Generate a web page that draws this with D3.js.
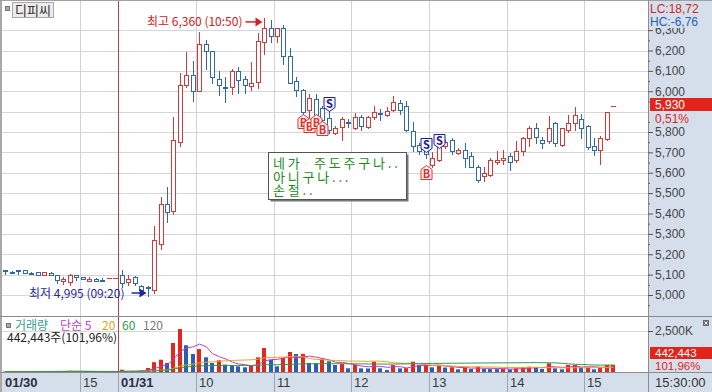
<!DOCTYPE html>
<html>
<head>
<meta charset="utf-8">
<script src="https://cdn.jsdelivr.net/npm/d3@7"></script>
<style>
  html, body { margin: 0; padding: 0; background: #fff; }
  svg { display: block; }
</style>
</head>
<body>
<svg id="chart" width="712" height="392"></svg>
<script>
const FONT = '"Noto Sans CJK KR", "Noto Sans", sans-serif';
const NUMFONT = '"Liberation Sans", Arial, sans-serif';

// ---- data ----
const stockName = "디피씨";
const days = ["01/30", "01/31"];

const day1Times = ["14:00","14:05","14:10","14:15","14:20","14:25","14:30","14:35","14:40","14:45","14:50","14:55",
  "15:00","15:05","15:10","15:15","15:20","15:25"];
const day1Open  = [5125,5115,5122,5122,5110,5115,5100,5110,5100,5068,5065,5098,5090,5070,5078,5075,5082,5082];
const day1High  = [5125,5120,5122,5122,5115,5115,5115,5115,5100,5090,5105,5098,5090,5090,5085,5082,5082,5082];
const day1Low   = [5105,5110,5105,5110,5105,5100,5100,5100,5058,5052,5050,5075,5080,5070,5068,5068,5082,5082];
const day1Close = [5120,5110,5118,5110,5105,5100,5115,5100,5075,5080,5098,5088,5080,5080,5068,5068,5082,5082];
const day1Volume = [30,20,25,30,20,40,35,20,60,45,70,30,20,25,20,15,10,10];

const day2Times = ["09:00","09:05","09:10","09:15","09:20","09:25","09:30","09:35","09:40","09:45","09:50","09:55",
  "10:00","10:05","10:10","10:15","10:20","10:25","10:30","10:35","10:40","10:45","10:50","10:55",
  "11:00","11:05","11:10","11:15","11:20","11:25","11:30","11:35","11:40","11:45","11:50","11:55",
  "12:00","12:05","12:10","12:15","12:20","12:25","12:30","12:35","12:40","12:45","12:50","12:55",
  "13:00","13:05","13:10","13:15","13:20","13:25","13:30","13:35","13:40","13:45","13:50","13:55",
  "14:00","14:05","14:10","14:15","14:20","14:25","14:30","14:35","14:40","14:45","14:50","14:55",
  "15:00","15:05","15:10","15:15","15:20"];
const day2Open = [5100,5065,5090,5045,5040,5025,5250,5445,5410,5750,
  6030,6080,6000,6230,6200,6060,6020,6020,6100,6060,
  6025,6045,6240,6310,6270,6310,6175,6050,6005,5910,
  5960,5920,5870,5795,5825,5850,5820,5875,5825,5875,
  5895,5885,5910,5940,5930,5805,5735,5710,5640,5665,
  5730,5760,5695,5710,5680,5630,5585,5590,5655,5665,
  5680,5665,5705,5770,5820,5760,5755,5845,5735,5810,
  5845,5865,5830,5730,5710,5765,5930];
const day2High = [5125,5100,5095,5050,5045,5340,5480,5530,5875,6090,
  6195,6150,6290,6250,6200,6100,6070,6110,6120,6075,
  6145,6285,6360,6350,6310,6325,6210,6070,6010,5985,
  5985,5930,5905,5830,5875,5865,5895,5885,5880,5930,
  5915,5925,5975,5955,5950,5850,5745,5720,5700,5740,
  5760,5770,5720,5745,5700,5640,5630,5670,5705,5710,
  5695,5755,5775,5830,5845,5775,5880,5850,5820,5885,
  5925,5890,5835,5770,5780,5900,5930];
const day2Low = [5040,5050,5050,5005,4995,5010,5225,5360,5400,5730,
  6020,5950,6000,6110,6040,5980,5945,5985,5990,5990,
  6005,6015,6185,6240,6240,6135,6040,5975,5880,5830,
  5870,5850,5795,5790,5760,5825,5815,5810,5820,5865,
  5860,5880,5905,5890,5805,5705,5690,5670,5630,5660,
  5720,5690,5690,5630,5630,5555,5560,5585,5645,5645,
  5615,5655,5685,5730,5745,5720,5745,5730,5730,5800,
  5810,5770,5715,5685,5645,5760,5930];
const day2Close = [5060,5080,5060,5025,5035,5270,5445,5405,5760,6030,
  6080,6000,6230,6200,6070,6030,6015,6100,6055,6030,
  6040,6245,6310,6270,6310,6175,6040,6005,5900,5965,
  5885,5860,5810,5820,5865,5845,5875,5830,5875,5900,
  5890,5905,5945,5910,5810,5730,5705,5690,5670,5730,
  5750,5705,5710,5670,5630,5565,5600,5665,5665,5670,
  5655,5705,5770,5820,5775,5745,5820,5745,5820,5845,
  5885,5820,5725,5710,5770,5900,5930];
// volume in thousand shares
const day2Volume = [140,50,60,80,244,600,750,550,1770,2620,
  1630,1100,1400,895,550,712,447,407,346,285,
  387,895,1464,753,346,854,1220,1098,1110,549,
  540,813,651,427,488,224,427,224,215,630,
  224,122,427,220,235,630,427,440,285,366,
  270,290,163,264,183,325,183,180,175,185,
  163,224,285,325,310,183,530,224,163,427,
  430,285,290,163,285,433.94,442.443];

const priceTicks = [5000,5100,5200,5300,5400,5500,5600,5700,5800,5900,6000,6100,6200,6300];
const volumeTicks = [2500];

// my trades (B = buy, S = sell)
const tradeTimes  = ["11:20","11:25","11:30","11:35","11:40","12:55","12:55","13:05"];
const tradeSides  = ["B","B","B","B","S","S","B","S"];
const tradePrices = [5890,5870,5890,5855,5905,5700,5640,5720];

const memoLines = ["네가  주도주구나..", "아니구나...", "손절.."];
const lcText = "LC:18,72";
const hcText = "HC:-6,76";
const changeText = "0,51%";
const clockText = "15:30:00";
const maPeriods = [5, 20, 60, 120];

// ---- build bars ----
const bars = [];
day1Times.forEach((t, i) => bars.push({ day: days[0], time: t, o: day1Open[i], h: day1High[i], l: day1Low[i], c: day1Close[i], v: day1Volume[i] }));
day2Times.forEach((t, i) => bars.push({ day: days[1], time: t, o: day2Open[i], h: day2High[i], l: day2Low[i], c: day2Close[i], v: day2Volume[i] }));
bars.forEach((b, k) => {
  b.k = k;
  b.dayStart = k === 0 || bars[k - 1].day !== b.day;
  b.volUp = k === 0 || b.v >= bars[k - 1].v;
});

// ---- layout ----
const W = 712, H = 392;
const plotLeft = 2, plotRight = 648;
const priceBottom = 316, volBottom = 372;
const slotW = 6.47;

const svg = d3.select("#chart").attr("font-family", FONT);

const x = d3.scaleLinear().domain([0, (plotRight - plotLeft) / slotW]).range([plotLeft, plotRight]);
const yP = d3.scaleLinear().domain([5000, 6200]).range([295, 50.5]);
const yV = d3.scaleLinear().domain([0, 2500]).range([volBottom, 331]);
const cx = b => Math.round(x(b.k + 0.5)) + 0.5;
const fmt = d3.format(",");

const RED = "#d23a3a", BLUE = "#2e68a8";
const VRED = "#e2271f", VBLUE = "#2a5cb8";
const PANEL = "#d5dfeb";

const last = bars[bars.length - 1];
const prev = bars[bars.length - 2];
const py = Math.round(yP(last.c));

// backgrounds
svg.append("rect").attr("width", W).attr("height", H).attr("fill", "#fff");
svg.append("rect").attr("x", plotRight).attr("y", 0).attr("width", W - plotRight).attr("height", H).attr("fill", PANEL);
svg.append("rect").attr("x", 0).attr("y", volBottom).attr("width", plotRight).attr("height", H - volBottom).attr("fill", PANEL);

// horizontal grid
svg.append("g").selectAll("line").data(priceTicks).enter().append("line")
  .attr("x1", plotLeft).attr("x2", plotRight)
  .attr("y1", d => Math.round(yP(d)) + 0.5).attr("y2", d => Math.round(yP(d)) + 0.5)
  .attr("stroke", "#d6d6d6");
svg.append("g").selectAll("line").data(volumeTicks).enter().append("line")
  .attr("x1", plotLeft).attr("x2", plotRight)
  .attr("y1", d => Math.round(yV(d)) + 0.5).attr("y2", d => Math.round(yV(d)) + 0.5)
  .attr("stroke", "#d6d6d6");

// vertical grid (hour boundaries, day separators)
const labelBars = bars.filter(b => b.dayStart || b.time.endsWith(":00"));
const gridBars = labelBars.filter(b => b.k > 0);
svg.append("g").selectAll("line").data(gridBars).enter().append("line")
  .attr("x1", b => Math.round(x(b.k)) + 0.5).attr("x2", b => Math.round(x(b.k)) + 0.5)
  .attr("y1", 0).attr("y2", volBottom)
  .attr("stroke", b => b.dayStart ? "#b84040" : "#d2d2d2");
svg.append("g").selectAll("line").data(gridBars).enter().append("line")
  .attr("x1", b => Math.round(x(b.k)) + 0.5).attr("x2", b => Math.round(x(b.k)) + 0.5)
  .attr("y1", volBottom).attr("y2", H)
  .attr("stroke", "#9aa6b6");

// panel borders
svg.append("rect").attr("x", 0).attr("y", 0).attr("width", plotLeft).attr("height", H).attr("fill", "#a8a8a8");
svg.append("line").attr("x1", 0).attr("x2", W).attr("y1", 0.5).attr("y2", 0.5).attr("stroke", "#a0a0a0");
svg.append("line").attr("x1", 0).attr("x2", W).attr("y1", priceBottom + 0.5).attr("y2", priceBottom + 0.5).attr("stroke", "#8c8c8c");
svg.append("line").attr("x1", 0).attr("x2", W).attr("y1", volBottom + 0.5).attr("y2", volBottom + 0.5).attr("stroke", "#8c8c8c");
svg.append("line").attr("x1", plotRight + 0.5).attr("x2", plotRight + 0.5).attr("y1", 0).attr("y2", H).attr("stroke", "#8c8c8c");

// ---- candles ----
const candles = svg.append("g").selectAll("g").data(bars).enter().append("g");
candles.append("line")
  .attr("x1", cx).attr("x2", cx)
  .attr("y1", b => Math.round(yP(b.h))).attr("y2", b => Math.round(yP(b.l)) + 1)
  .attr("stroke", b => b.c >= b.o ? RED : BLUE);
candles.append("rect")
  .attr("x", b => cx(b) - 2)
  .attr("y", b => Math.round(yP(Math.max(b.o, b.c))) + 0.5)
  .attr("width", 4)
  .attr("height", b => Math.max(0.01, Math.round(yP(Math.min(b.o, b.c))) - Math.round(yP(Math.max(b.o, b.c)))))
  .attr("fill", "#fff")
  .attr("stroke", b => b.c >= b.o ? RED : BLUE);

// ---- volume ----
svg.append("g").selectAll("rect").data(bars).enter().append("rect")
  .attr("x", b => cx(b) - 2.5)
  .attr("y", b => yV(b.v))
  .attr("width", 4)
  .attr("height", b => volBottom - yV(b.v))
  .attr("fill", b => b.volUp ? VRED : VBLUE);

const volumes = bars.map(b => b.v);
const movingAvg = n => volumes.map((v, i) => d3.mean(volumes.slice(Math.max(0, i - n + 1), i + 1)));
const maColors = ["#c43cc4", "#eea21e", "#2a9a50", "#8a8a8a"];
maPeriods.slice(0, 3).forEach((n, j) => {
  const ma = movingAvg(n);
  svg.append("path")
    .datum(bars)
    .attr("fill", "none")
    .attr("stroke", maColors[j])
    .attr("stroke-width", 1)
    .attr("d", d3.line().x(b => cx(b)).y(b => yV(ma[b.k])));
});

// ---- trade markers ----
const trades = tradeTimes.map((t, i) => {
  const b = bars.find(d => d.day === days[1] && d.time === t);
  return { b, side: tradeSides[i], price: tradePrices[i] };
});
const mk = svg.append("g").selectAll("g").data(trades).enter().append("g")
  .attr("transform", d => `translate(${cx(d.b)},${Math.round(yP(d.price)) + 0.5})`);
mk.append("path")
  .attr("d", d => d.side === "B"
    ? "M0,0 L5.5,4 L5.5,14 L-5.5,14 L-5.5,4 Z"
    : "M0,0 L5.5,-4 L5.5,-14 L-5.5,-14 L-5.5,-4 Z")
  .attr("fill", d => d.side === "B" ? "#fff4f4" : "#f6f6ff")
  .attr("stroke", d => d.side === "B" ? "#e03030" : "#1c1c8c");
mk.append("text")
  .attr("text-anchor", "middle")
  .attr("y", d => d.side === "B" ? 12.5 : -3.5)
  .attr("font-size", 11)
  .attr("font-weight", "bold")
  .attr("fill", d => d.side === "B" ? "#e03030" : "#1c1c8c")
  .text(d => d.side);

// ---- high / low annotations ----
const day2Bars = bars.filter(b => b.day === days[1]);
const hiBar = day2Bars.reduce((a, b) => b.h > a.h ? b : a);
const loBar = day2Bars.reduce((a, b) => b.l < a.l ? b : a);

const hiTipX = cx(hiBar) - 2, hiY = yP(hiBar.h) + 4;
svg.append("line").attr("x1", hiTipX - 17).attr("x2", hiTipX - 6).attr("y1", hiY).attr("y2", hiY)
  .attr("stroke", "#d42020").attr("stroke-width", 1.5);
svg.append("path").attr("d", `M${hiTipX},${hiY} L${hiTipX - 7},${hiY - 4.5} L${hiTipX - 7},${hiY + 4.5} Z`).attr("fill", "#d42020");
svg.append("text").attr("x", hiTipX - 20).attr("y", hiY + 4.5).attr("text-anchor", "end")
  .attr("font-size", 12).attr("fill", "#d42020")
  .text(`최고 ${fmt(hiBar.h)} (${hiBar.time})`);

const loTipX = cx(loBar) - 2, loY = yP(loBar.l) - 3;
svg.append("line").attr("x1", loTipX - 15).attr("x2", loTipX - 6).attr("y1", loY).attr("y2", loY)
  .attr("stroke", "#1c2a96").attr("stroke-width", 1.5);
svg.append("path").attr("d", `M${loTipX},${loY} L${loTipX - 7},${loY - 4.5} L${loTipX - 7},${loY + 4.5} Z`).attr("fill", "#1c2a96");
svg.append("text").attr("x", loTipX - 22).attr("y", loY + 4.5).attr("text-anchor", "end")
  .attr("font-size", 12).attr("fill", "#1c2a96")
  .text(`최저 ${fmt(loBar.l)} (${loBar.time})`);

// ---- memo box ----
svg.append("rect").attr("x", 270.5).attr("y", 154.5).attr("width", 138).attr("height", 47).attr("fill", "#777");
svg.append("rect").attr("x", 268.5).attr("y", 152.5).attr("width", 138).attr("height", 47)
  .attr("fill", "#fff").attr("stroke", "#555");
svg.append("text")
  .attr("y", 168)
  .attr("font-size", 13).attr("letter-spacing", 2.8)
  .attr("fill", "#1a8a1a")
  .style("white-space", "pre")
  .selectAll("tspan").data(memoLines).enter().append("tspan")
  .attr("x", 273).attr("dy", (d, i) => i === 0 ? 0 : 13.5)
  .text(d => d);

// ---- right price axis ----
svg.append("clipPath").attr("id", "axisClip")
  .append("rect").attr("x", 0).attr("y", 28).attr("width", W - plotRight).attr("height", priceBottom - 28);
// labels hidden behind the price tag are left out
const shownTicks = priceTicks.filter(d => Math.abs(yP(d) - py) > 12);
svg.append("g")
  .attr("transform", `translate(${plotRight},0)`)
  .call(d3.axisRight(yP).tickValues(priceTicks.map(d => d - 50)).tickSize(2).tickFormat(""))
  .call(g => g.select(".domain").remove())
  .call(g => g.selectAll("line").attr("stroke", "#666"));
svg.append("g")
  .attr("transform", `translate(${plotRight},0)`)
  .attr("clip-path", "url(#axisClip)")
  .call(d3.axisRight(yP).tickValues(shownTicks).tickSize(5).tickPadding(2).tickFormat(fmt))
  .attr("font-family", NUMFONT)
  .call(g => g.select(".domain").remove())
  .call(g => g.selectAll("line").attr("stroke", "#555"))
  .call(g => g.selectAll("text").attr("fill", "#454545").attr("font-size", 12));

// volume axis
svg.append("g")
  .attr("transform", `translate(${plotRight},0)`)
  .call(d3.axisRight(yV).tickValues(volumeTicks).tickSize(5).tickPadding(2).tickFormat(d => fmt(d) + "K"))
  .attr("font-family", NUMFONT)
  .call(g => g.select(".domain").remove())
  .call(g => g.selectAll("line").attr("stroke", "#555"))
  .call(g => g.selectAll("text").attr("fill", "#454545").attr("font-size", 12));

// LC / HC
svg.append("text").attr("x", plotRight + 2).attr("y", 12.5).attr("font-family", NUMFONT).attr("font-size", 12).attr("fill", "#d02828").text(lcText);
svg.append("text").attr("x", plotRight + 2).attr("y", 26).attr("font-family", NUMFONT).attr("font-size", 12).attr("fill", "#2a5fb0").text(hcText);

// current price tag
svg.append("rect").attr("x", plotRight + 2).attr("y", py - 8).attr("width", W - plotRight - 2).attr("height", 13).attr("fill", "#e2241a");
svg.append("text").attr("x", plotRight + 7).attr("y", py + 3).attr("font-family", NUMFONT).attr("font-size", 12).attr("fill", "#fff").text(fmt(last.c));
svg.append("text").attr("x", plotRight + 7).attr("y", py + 17).attr("font-family", NUMFONT).attr("font-size", 12).attr("fill", "#e2241a").text(changeText);

// current volume tag
const volShares = Math.round(last.v * 1000);
const volRatio = d3.format(".2f")(last.v / prev.v * 100).replace(".", ",") + "%";
svg.append("rect").attr("x", plotRight + 2).attr("y", 347).attr("width", W - plotRight - 2).attr("height", 12).attr("fill", "#e2241a");
svg.append("text").attr("x", plotRight + 7).attr("y", 357).attr("font-family", NUMFONT).attr("font-size", 11.5).attr("fill", "#fff").text(fmt(volShares));
svg.append("text").attr("x", plotRight + 7).attr("y", 370).attr("font-family", NUMFONT).attr("font-size", 11.5).attr("fill", "#e2241a").text(volRatio);

// close icon in volume panel
svg.append("rect").attr("x", 703).attr("y", 320).attr("width", 6).attr("height", 6).attr("fill", "#6a6a6a");
svg.append("path").attr("d", "M704.5,321.5 L707.5,324.5 M707.5,321.5 L704.5,324.5").attr("stroke", "#fff").attr("stroke-width", 1);

// ---- time axis labels ----
svg.append("g").selectAll("text").data(labelBars).enter().append("text")
  .attr("x", b => Math.round(x(b.k)) + 3)
  .attr("y", 387)
  .attr("font-family", NUMFONT)
  .attr("font-size", 13)
  .attr("font-weight", b => b.dayStart ? "bold" : "normal")
  .attr("fill", b => b.dayStart ? "#2a2e3e" : "#3a3a3a")
  .text(b => b.dayStart ? b.day : String(+b.time.slice(0, 2)));
svg.append("text").attr("x", plotRight + 7).attr("y", 387).attr("font-family", NUMFONT).attr("font-size", 13).attr("fill", "#333").text(clockText);

// ---- title ----
svg.append("rect").attr("x", 5.5).attr("y", 6.5).attr("width", 4).attr("height", 4).attr("fill", "#aaa").attr("stroke", "#777");
svg.append("rect").attr("x", 12.5).attr("y", 2.5).attr("width", 41).attr("height", 15).attr("fill", "#ececec").attr("stroke", "#a8a8a8");
svg.append("text").attr("x", 15).attr("y", 15).attr("font-size", 13).attr("fill", "#333").text(stockName);

// ---- volume legend ----
svg.append("rect").attr("x", 6.5).attr("y", 323.5).attr("width", 4).attr("height", 4).attr("fill", "#aaa").attr("stroke", "#777");
const legendItems = [
  { text: "거래량", color: "#3a9898", x: 15 },
  { text: "단순 " + maPeriods[0], color: "#c43cc4", x: 60 },
  { text: String(maPeriods[1]), color: "#e0a418", x: 102 },
  { text: String(maPeriods[2]), color: "#2a9a50", x: 122 },
  { text: String(maPeriods[3]), color: "#777", x: 143 }
];
svg.append("g").selectAll("text").data(legendItems).enter().append("text")
  .attr("x", d => d.x).attr("y", 329.5).attr("font-size", 12)
  .attr("fill", d => d.color).text(d => d.text);
svg.append("text").attr("x", 7).attr("y", 342).attr("font-size", 12).attr("fill", "#222")
  .text(`${fmt(volShares)}주(${volRatio})`);
</script>
</body>
</html>
